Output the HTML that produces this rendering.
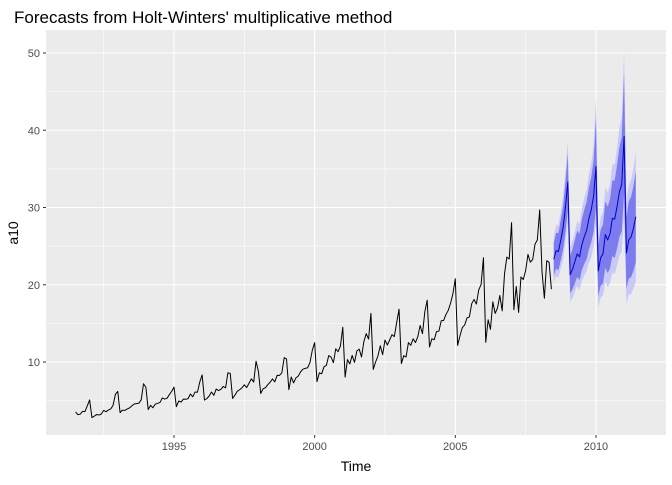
<!DOCTYPE html>
<html><head><meta charset="utf-8"><style>
body{margin:0;background:#fff;}
svg text{font-family:"Liberation Sans",sans-serif;}
</style></head><body>
<svg id="chart" width="672" height="480" viewBox="0 0 672 480">
<rect width="672" height="480" fill="#fff"/>
<text x="14" y="23" font-size="17" fill="#000">Forecasts from Holt-Winters' multiplicative method</text>
<rect x="46" y="30" width="620" height="405" fill="#EBEBEB"/>
<g id="grid"></g>
<g id="marks"></g>
<g id="axes"></g>
<text x="356" y="471" font-size="14" text-anchor="middle">Time</text>
<text transform="translate(18,233) rotate(-90)" font-size="14" text-anchor="middle">a10</text>
</svg>
<script>
const histStart = 1991 + 6/12;
const histValues = [3.53,3.18,3.25,3.61,3.57,4.31,
5.09,2.81,2.99,3.20,3.13,3.27,3.74,3.56,3.78,3.92,4.39,5.81,
6.19,3.45,3.77,3.73,3.91,4.05,4.32,4.56,4.61,4.67,5.09,7.18,
6.73,3.84,4.39,4.08,4.54,4.65,4.75,5.35,5.20,5.30,5.77,6.20,
6.75,4.22,4.95,4.82,5.19,5.17,5.26,5.86,5.49,6.12,6.09,7.42,
8.33,5.07,5.26,5.60,6.11,5.69,6.49,6.30,6.47,6.83,6.65,8.61,
8.52,5.28,5.71,6.21,6.41,6.67,7.05,6.70,7.25,7.82,7.40,10.10,
8.80,5.92,6.53,6.68,7.06,7.38,7.81,7.43,8.28,8.26,8.60,10.56,
10.39,6.42,8.06,7.30,7.94,8.17,8.72,9.07,9.18,9.25,9.93,11.53,
12.51,7.46,8.59,8.47,9.39,9.56,10.83,10.64,9.91,11.71,11.34,12.08,
14.50,8.05,10.31,9.75,10.85,9.96,11.44,11.66,10.65,12.65,13.67,12.97,
16.30,9.05,10.00,10.79,12.11,10.95,12.84,12.20,12.85,13.54,13.29,15.13,
16.83,9.80,10.82,10.65,12.51,12.16,13.00,12.52,13.27,14.73,13.67,16.50,
18.00,11.94,13.00,12.88,13.94,13.99,15.34,15.37,16.14,16.69,17.64,18.87,
20.78,12.15,13.40,14.46,14.80,15.71,15.83,17.55,18.10,17.50,19.35,20.03,
23.49,12.54,15.47,14.23,17.78,16.29,16.98,18.61,16.62,21.43,23.58,23.33,
28.04,16.76,19.79,16.43,21.00,20.68,21.83,23.93,22.93,23.26,25.25,25.81,
29.67,21.65,18.26,23.11,22.91,19.43];
const fcStart = 2008 + 6/12;
const fcMean = [23.3,24.4,24.3,25.8,27.4,30.1,33.3,21.3,22.0,23.0,24.0,23.6,25.2,26.2,27.0,28.6,29.7,31.5,35.3,21.8,23.5,24.0,26.5,25.8,26.6,28.6,28.5,30.1,32.0,33.0,39.2,24.1,25.8,26.2,27.3,28.8];
const lo95 = [20.3,21.1,20.9,22.1,23.3,25.5,28.0,17.8,18.3,19.1,19.8,19.3,20.5,21.2,21.8,22.9,23.6,24.9,27.8,17.1,18.3,18.6,20.4,19.7,20.2,21.6,21.4,22.5,23.7,24.3,28.7,17.5,18.7,18.8,19.5,20.4];
const hi95 = [26.3,27.7,27.7,29.5,31.5,34.7,38.6,24.8,25.7,26.9,28.2,27.9,29.9,31.2,32.2,34.3,35.8,38.1,44.0,26.5,28.7,29.4,32.6,31.9,33.0,35.6,35.6,37.7,40.3,41.7,50.2,30.7,32.9,33.6,35.1,37.2];
const lo80 = [21.2,22.1,21.9,23.2,24.6,26.9,29.6,18.9,19.4,20.2,21.0,20.6,21.9,22.7,23.3,24.6,25.5,26.9,30.0,18.5,19.9,20.2,22.2,21.5,22.1,23.7,23.5,24.7,26.2,26.9,31.8,19.5,20.8,21.0,21.8,22.9];
const hi80 = [25.4,26.7,26.7,28.4,30.2,33.3,37.0,23.7,24.6,25.8,27.0,26.6,28.5,29.7,30.7,32.6,33.9,36.1,41.5,25.1,27.1,27.8,30.8,30.1,31.1,33.5,33.5,35.5,37.8,39.1,47.4,28.7,30.8,31.4,32.8,34.7];
const xTicks = [1995,2000,2005,2010];
const xMinor = [1992.5,1997.5,2002.5,2007.5];
const yTicks = [10,20,30,40,50];
const yMinor = [5,15,25,35,45];

const X = t => 174 + (t - 1995) * 28.13;
const Y = v => 362 - (v - 10) * 7.725;
const NS = 'http://www.w3.org/2000/svg';
function mk(tag, attrs, parent){const e=document.createElementNS(NS,tag);for(const k in attrs)e.setAttribute(k,attrs[k]);parent.appendChild(e);return e;}
const grid=document.getElementById('grid'), marks=document.getElementById('marks'), axes=document.getElementById('axes');
yMinor.forEach(v=>{const l=mk('line',{x1:46,x2:666,y1:Y(v),y2:Y(v),stroke:'#fff','stroke-width':0.55},grid);

});
xMinor.forEach(t=>{const l=mk('line',{x1:X(t),x2:X(t),y1:30,y2:435,stroke:'#fff','stroke-width':0.55},grid);

});
yTicks.forEach(v=>{const l=mk('line',{x1:46,x2:666,y1:Y(v),y2:Y(v),stroke:'#fff','stroke-width':1.1},grid);


mk('line',{x1:43,x2:46,y1:Y(v),y2:Y(v),stroke:'#333','stroke-width':1},axes);
const t=mk('text',{x:40,y:Y(v)+4,'font-size':11,'text-anchor':'end',fill:'#4D4D4D'},axes);t.textContent=v;

});
xTicks.forEach(tk=>{const l=mk('line',{x1:X(tk),x2:X(tk),y1:30,y2:435,stroke:'#fff','stroke-width':1.1},grid);


mk('line',{x1:X(tk),x2:X(tk),y1:435,y2:438,stroke:'#333','stroke-width':1},axes);
const t=mk('text',{x:X(tk),y:450,'font-size':11,'text-anchor':'middle',fill:'#4D4D4D'},axes);t.textContent=tk;

});
function band(lo,hi,color,name){let d='';
for(let i=0;i<hi.length;i++)d+=(i?'L':'M')+X(fcStart+i/12).toFixed(2)+','+Y(hi[i]).toFixed(2);
for(let i=lo.length-1;i>=0;i--)d+='L'+X(fcStart+i/12).toFixed(2)+','+Y(lo[i]).toFixed(2);
const p=mk('path',{d:d+'Z',fill:color,stroke:'none'},marks);

}
band(lo95,hi95,'#C9C9F7','interval-95');
band(lo80,hi80,'#7C7CEE','interval-80');
function line(start,vals,color,name){const pts=vals.map((v,i)=>X(start+i/12).toFixed(2)+','+Y(v).toFixed(2)).join(' ');
const p=mk('polyline',{points:pts,fill:'none',stroke:color,'stroke-width':1,'stroke-linejoin':'round'},marks);

}
line(histStart,histValues,'#000','observed-series');
line(fcStart,fcMean,'#0000CC','forecast-mean');
</script>
</body></html>
